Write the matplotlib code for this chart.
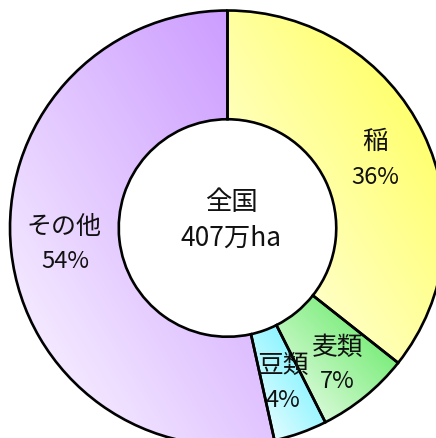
import numpy as np
import matplotlib
matplotlib.use("Agg")
import matplotlib.pyplot as plt
from matplotlib.colors import to_rgb

labels = ["稲", "麦類", "豆類", "その他"]
shares = [36, 7, 4, 54]
pct_labels = ["36%", "7%", "4%", "54%"]
colors = ["#ffff4d", "#55e855", "#5ff0ff", "#c894ff"]
center_title = "全国"
center_total = "407万ha"

cjk = ["Noto Sans CJK JP", "DejaVu Sans"]
narrow = ["Liberation Sans Narrow", "Noto Sans CJK JP"]

#figure is 436x439 px, pie center at (227.5, 229) px, outer radius 217.5 px
W, H = 436, 439
cx, cy, R = 227.5, 229.0, 217.5

fig = plt.figure(figsize=(W / 100, H / 100), dpi=100)
ax = fig.add_axes([0, 0, 1, 1])
wedges, _ = ax.pie(shares, radius=1, startangle=90, counterclock=False,
                   wedgeprops=dict(width=0.5, edgecolor="black", linewidth=1.9, facecolor="none"))

#gradient fill: white at lower left of each wedge to full colour at upper right
for w, c in zip(wedges, colors):
    w.set_zorder(3)
    bb = w.get_path().get_extents(w.get_transform() - ax.transData)
    x0, y0, x1, y1 = bb.x0, bb.y0, bb.x1, bb.y1
    n = 200
    gx, gy = np.meshgrid(np.linspace(0, 1, n), np.linspace(0, 1, n))
    t = np.clip((gx + gy) / 2, 0, 1) ** 0.9
    rgb = np.array(to_rgb(c))
    img = (1 - t[..., None]) * np.ones(3) * 1.0 + t[..., None] * rgb
    im = ax.imshow(img, extent=(x0, x1, y0, y1), origin="lower", zorder=2,
                   interpolation="bilinear", aspect="auto")
    im.set_clip_path(w)

ax.set_xlim(-cx / R, (W - cx) / R)
ax.set_ylim(-(H - cy) / R, cy / R)
ax.set_aspect("auto")
ax.axis("off")


def px(x, y):
    return (x - cx) / R, (cy - y) / R


name_pos = [(375, 142), (337, 348), (283, 366), (64, 227)]
pct_pos = [(375, 177), (337, 382), (283, 401), (65, 261)]
name_size = [18.5, 18.5, 18.5, 18]
for lab, p, pos, ppos, fs in zip(labels, pct_labels, name_pos, pct_pos, name_size):
    ax.text(*px(*pos), lab, ha="center", va="center", fontsize=fs, family=cjk,
            color="#111111", zorder=5)
    ax.text(*px(*ppos), p, ha="center", va="center", fontsize=17, family=narrow,
            color="#111111", zorder=5)

ax.text(*px(231, 203), center_title, ha="center", va="center", fontsize=19, family=cjk,
        color="#111111", zorder=5)
ax.text(*px(231, 238), center_total, ha="center", va="center", fontsize=19, family=cjk,
        color="#111111", zorder=5)

fig.savefig("out.png", dpi=100)
